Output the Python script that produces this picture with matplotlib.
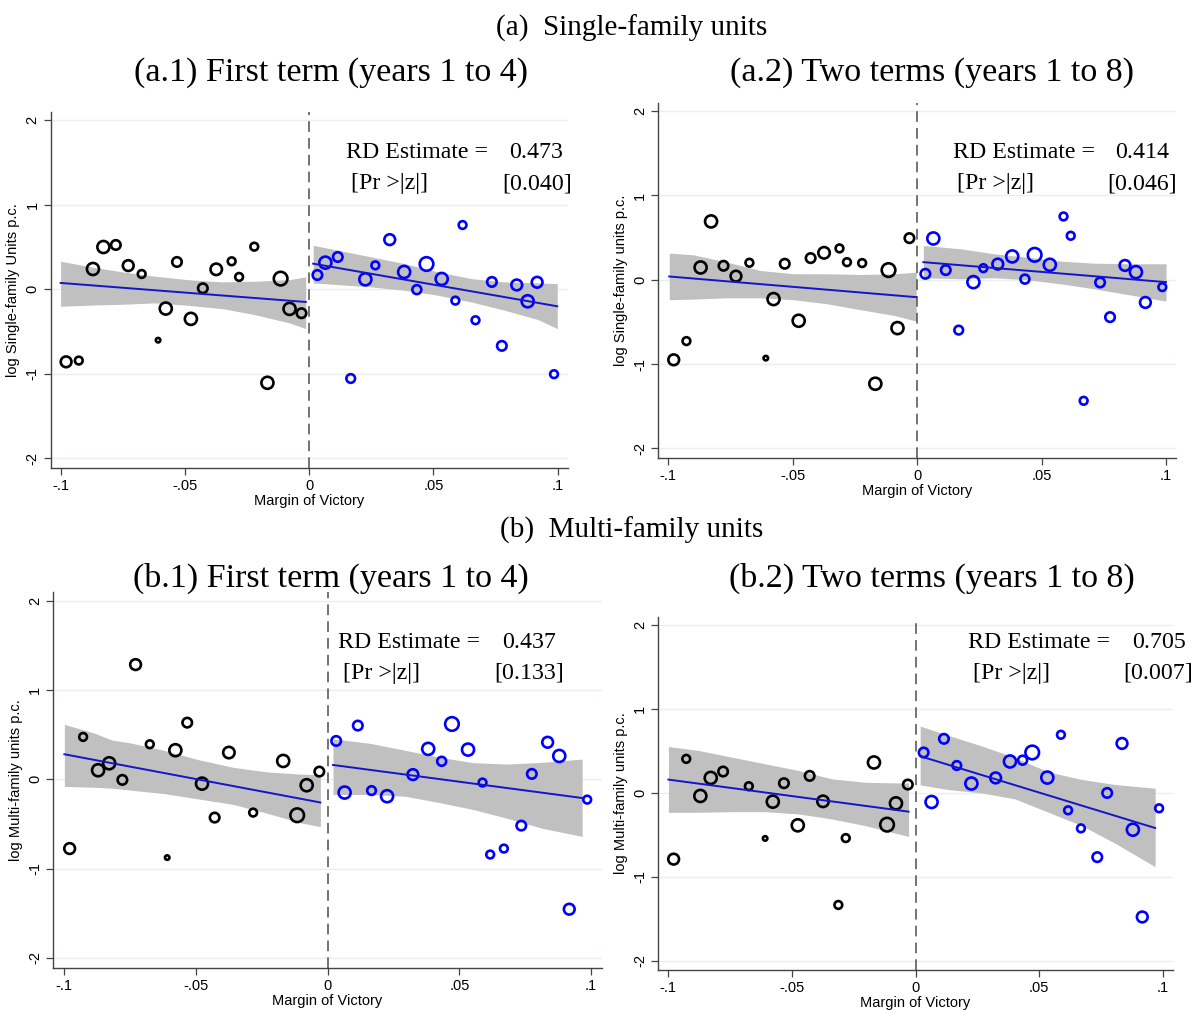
import numpy as np
import matplotlib
matplotlib.use('Agg')
import matplotlib.pyplot as plt

plt.rcParams['font.family'] = ['Liberation Sans', 'DejaVu Sans']

# bin centres of the margin of victory, shared by all four panels
left_x = [-0.0978, -0.0927, -0.0870, -0.0828, -0.0778, -0.0728, -0.0674, -0.0608, -0.0577, -0.0532,
          -0.0476, -0.0428, -0.0374, -0.0312, -0.0282, -0.0221, -0.0168, -0.0115, -0.0079, -0.0031]
right_x = [0.0033, 0.0065, 0.0115, 0.0167, 0.0226, 0.0266, 0.0324, 0.0382, 0.0433, 0.0472,
           0.0533, 0.0588, 0.0617, 0.0669, 0.0735, 0.0775, 0.0835, 0.0879, 0.0917, 0.0985]
# observations per bin (marker area)
left_n = [23, 12, 29, 29, 18, 23, 12, 4, 29, 18, 29, 18, 26, 12, 12, 12, 29, 37, 29, 18]
right_n = [18, 29, 18, 15, 29, 12, 23, 29, 16, 37, 29, 12, 12, 12, 18, 18, 23, 29, 23, 12]

nan = np.nan
# (a.1) single-family, first term
a1_left = [-0.858, -0.843, 0.240, 0.500, 0.524, 0.280, 0.181, -0.602, -0.228, 0.323,
           -0.350, 0.012, 0.236, 0.331, 0.146, 0.504, -1.106, 0.126, -0.232, -0.283]
a1_right = [0.169, 0.315, 0.382, -1.055, 0.118, 0.283, 0.587, 0.205, -0.004, 0.299,
            0.122, -0.134, 0.760, -0.366, 0.087, -0.669, 0.051, -0.142, 0.083, -1.004]
# (a.2) single-family, two terms
a2_left = [-0.949, -0.727, 0.146, 0.692, 0.166, 0.043, 0.202, -0.929, -0.229, 0.190,
           -0.486, 0.257, 0.320, 0.372, 0.209, 0.198, -1.233, 0.115, -0.573, 0.494]
a2_right = [0.071, 0.490, 0.115, -0.597, -0.028, 0.138, 0.186, 0.277, 0.008, 0.296,
            0.178, 0.751, 0.522, -1.435, -0.032, -0.443, 0.170, 0.091, -0.269, -0.087]
# (b.1) multi-family, first term
b1_left = [-0.776, 0.474, 0.101, 0.179, -0.007, 1.284, 0.392, -0.877, 0.325, 0.634,
           -0.049, -0.429, 0.299, nan, -0.373, nan, 0.205, -0.403, -0.067, 0.086]
b1_right = [0.429, -0.149, 0.601, -0.127, -0.190, nan, 0.052, 0.340, 0.201, 0.619,
            0.332, -0.037, -0.843, -0.776, -0.519, 0.060, 0.414, 0.261, -1.455, -0.228]
# (b.2) multi-family, two terms
b2_left = [-0.789, 0.406, -0.036, 0.179, 0.255, nan, 0.080, -0.542, -0.104, 0.116,
           -0.386, 0.203, -0.100, -1.335, -0.538, nan, 0.363, -0.378, -0.124, 0.100]
b2_right = [0.482, -0.108, 0.645, 0.327, 0.112, nan, 0.179, 0.375, 0.390, 0.482,
            0.183, 0.693, -0.207, -0.422, -0.765, 0.000, 0.590, -0.438, -1.478, -0.183]

# linear fits (value at both ends of the band) and confidence bands
a1_lband_x = [-0.100, -0.086, -0.075, -0.062, -0.049, -0.035, -0.022, -0.008, -0.0014]
a1_lband_hi = [0.331, 0.256, 0.205, 0.154, 0.114, 0.087, 0.095, 0.114, 0.146]
a1_lband_lo = [-0.201, -0.185, -0.177, -0.161, -0.189, -0.229, -0.299, -0.398, -0.465]
a1_lfit = [0.075, -0.150]
a1_rband_x = [0.0016, 0.0117, 0.0251, 0.0384, 0.0518, 0.0652, 0.0786, 0.0920, 0.0998]
a1_rband_hi = [0.520, 0.461, 0.382, 0.303, 0.205, 0.126, 0.087, 0.075, 0.067]
a1_rband_lo = [0.075, 0.055, 0.028, -0.012, -0.071, -0.150, -0.248, -0.358, -0.465]
a1_rfit = [0.303, -0.201]

a2_lband_x = [-0.0996, -0.0899, -0.0764, -0.0630, -0.0495, -0.0361, -0.0226, -0.0092, -0.0004]
a2_lband_hi = [0.316, 0.296, 0.209, 0.110, 0.071, 0.071, 0.063, 0.071, 0.090]
a2_lband_lo = [-0.237, -0.229, -0.214, -0.214, -0.237, -0.285, -0.356, -0.423, -0.490]
a2_lfit = [0.039, -0.206]
a2_rband_x = [0.0025, 0.0176, 0.0310, 0.0443, 0.0577, 0.0711, 0.0844, 0.1000]
a2_rband_hi = [0.407, 0.367, 0.308, 0.268, 0.221, 0.197, 0.190, 0.190]
a2_rband_lo = [0.024, 0.012, 0.024, 0.000, -0.048, -0.107, -0.174, -0.253]
a2_rfit = [0.209, -0.028]

b1_lband_x = [-0.0998, -0.0883, -0.0817, -0.0752, -0.0622, -0.0491, -0.0360, -0.0230, -0.0099, -0.0027]
b1_lband_hi = [0.615, 0.515, 0.438, 0.41, 0.325, 0.22, 0.135, 0.082, 0.057, 0.05]
b1_lband_lo = [-0.08, -0.09, -0.10, -0.12, -0.16, -0.22, -0.28, -0.38, -0.49, -0.53]
b1_lfit = [0.28, -0.26]
b1_rband_x = [0.0021, 0.0162, 0.0293, 0.0423, 0.0554, 0.0685, 0.0816, 0.0966]
b1_rband_hi = [0.452, 0.402, 0.325, 0.247, 0.185, 0.17, 0.19, 0.226]
b1_rband_lo = [-0.17, -0.17, -0.19, -0.26, -0.34, -0.44, -0.55, -0.64]
b1_rfit = [0.16, -0.21]

b2_lband_x = [-0.0999, -0.0877, -0.0742, -0.0607, -0.0472, -0.0337, -0.0202, -0.0068, -0.0028]
b2_lband_hi = [0.553, 0.506, 0.426, 0.346, 0.267, 0.167, 0.127, 0.119, 0.119]
b2_lband_lo = [-0.231, -0.231, -0.223, -0.223, -0.251, -0.311, -0.390, -0.490, -0.518]
b2_lfit = [0.159, -0.223]
b2_rband_x = [0.0019, 0.0133, 0.0268, 0.0403, 0.0538, 0.0673, 0.0807, 0.0969]
b2_rband_hi = [0.797, 0.685, 0.56, 0.42, 0.25, 0.16, 0.10, 0.056]
b2_rband_lo = [0.096, 0.040, 0.000, -0.072, -0.231, -0.390, -0.600, -0.880]
b2_rfit = [0.438, -0.418]

xticks = [-0.1, -0.05, 0, 0.05, 0.1]
xticklabels = ['-.1', '-.05', '0', '.05', '.1']
yticks = [-2, -1, 0, 1, 2]
yticklabels = ['-2', '-1', '0', '1', '2']

rd_est = ['0.473', '0.414', '0.437', '0.705']
rd_p = ['[0.040]', '[0.046]', '[0.133]', '[0.007]']
ylabels = ['log Single-family Units p.c.', 'log Single-family units p.c.',
           'log Multi-family units p.c.', 'log Multi-family units p.c.']
subtitles = ['(a.1) First term (years 1 to 4)', '(a.2) Two terms (years 1 to 8)',
             '(b.1) First term (years 1 to 4)', '(b.2) Two terms (years 1 to 8)']

W, H = 1195, 1010
BAND = '#c0c0c0'
FIT = '#1414c8'


def box(x0, y0, x1, y1):
    # pixel box (top-left origin) -> figure fraction rect
    return [x0 / W, 1 - y1 / H, (x1 - x0) / W, (y1 - y0) / H]


def draw_side(ax, x, y, n, color, bx, lo, hi, fit):
    ax.fill_between(bx, lo, hi, color=BAND, lw=0, zorder=1)
    ax.scatter(x, y, s=np.array(n) * 2.6, facecolors='none', edgecolors=color,
               linewidths=1.9, zorder=3)
    ax.plot([bx[0], bx[-1]], fit, color=FIT, lw=1.4, zorder=4)


def setup(ax, ylabel):
    ax.set_xlim(-0.104, 0.104)
    ax.set_ylim(-2.11, 2.10)
    for yv in yticks:
        ax.axhline(yv, color='#e6eff1', lw=1, zorder=0)
    ax.axvline(0, color='#4d4d4d', lw=1.1, dashes=(7, 4), zorder=2)
    ax.set_xticks(xticks)
    ax.set_xticklabels(xticklabels, fontsize=10.5)
    ax.set_yticks(yticks)
    ax.set_yticklabels(yticklabels, fontsize=10.5, rotation=90, va='center')
    ax.tick_params(length=5, width=0.9, color='#444444', pad=3)
    for s in ['top', 'right']:
        ax.spines[s].set_visible(False)
    for s in ['left', 'bottom']:
        ax.spines[s].set_color('#444444')
        ax.spines[s].set_linewidth(1.0)
    ax.set_xlabel('Margin of Victory', fontsize=10.5, labelpad=1)
    ax.set_ylabel(ylabel, fontsize=10.5, labelpad=4)


fig = plt.figure(figsize=(W / 100, H / 100), dpi=100)

panels = [
    (box(50.7, 111.7, 567.7, 467.7), a1_left, a1_right,
     (a1_lband_x, a1_lband_lo, a1_lband_hi, a1_lfit), (a1_rband_x, a1_rband_lo, a1_rband_hi, a1_rfit)),
    (box(658.3, 102.7, 1176, 457.7), a2_left, a2_right,
     (a2_lband_x, a2_lband_lo, a2_lband_hi, a2_lfit), (a2_rband_x, a2_rband_lo, a2_rband_hi, a2_rfit)),
    (box(53.3, 591.7, 601.7, 967.7), b1_left, b1_right,
     (b1_lband_x, b1_lband_lo, b1_lband_hi, b1_lfit), (b1_rband_x, b1_rband_lo, b1_rband_hi, b1_rfit)),
    (box(658.3, 616.7, 1172.7, 970), b2_left, b2_right,
     (b2_lband_x, b2_lband_lo, b2_lband_hi, b2_lfit), (b2_rband_x, b2_rband_lo, b2_rband_hi, b2_rfit)),
]

for i, (rect, yl, yr, lb, rb) in enumerate(panels):
    ax = fig.add_axes(rect)
    setup(ax, ylabels[i])
    draw_side(ax, left_x, yl, left_n, 'black', *lb)
    draw_side(ax, right_x, yr, right_n, '#0000ff', *rb)

serif = ['Liberation Serif', 'DejaVu Serif']

# section and panel titles
fig.text(632 / W, 1 - 28 / H, '(a)  Single-family units', family=serif, fontsize=21,
         ha='center', va='center')
fig.text(632 / W, 1 - 530 / H, '(b)  Multi-family units', family=serif, fontsize=21,
         ha='center', va='center')
sub_pos = [(331, 73), (932, 73), (331, 578), (932, 578)]
for (sx, sy), t in zip(sub_pos, subtitles):
    fig.text(sx / W, 1 - sy / H, t, family=serif, fontsize=24.5, ha='center', va='center')

# RD estimate boxes: (label x, value right x, y line 1, pr x, p right x, y line 2)
rd_pos = [(346, 563, 153, 351, 572, 184),
          (952.7, 1169.5, 153, 957.3, 1177, 184),
          (338.3, 556, 643, 343.3, 563.5, 673),
          (968.3, 1186, 643, 972.7, 1193, 673)]
for (lx, vx, y1, px, pvx, y2), est, p in zip(rd_pos, rd_est, rd_p):
    fig.text(lx / W, 1 - y1 / H, 'RD Estimate =', family=serif, fontsize=17.2, ha='left', va='center')
    fig.text(vx / W, 1 - y1 / H, est, family=serif, fontsize=17.2, ha='right', va='center')
    fig.text(px / W, 1 - y2 / H, '[Pr >|z|]', family=serif, fontsize=17.2, ha='left', va='center')
    fig.text(pvx / W, 1 - y2 / H, p, family=serif, fontsize=17.2, ha='right', va='center')

fig.savefig('out.png', dpi=100)
